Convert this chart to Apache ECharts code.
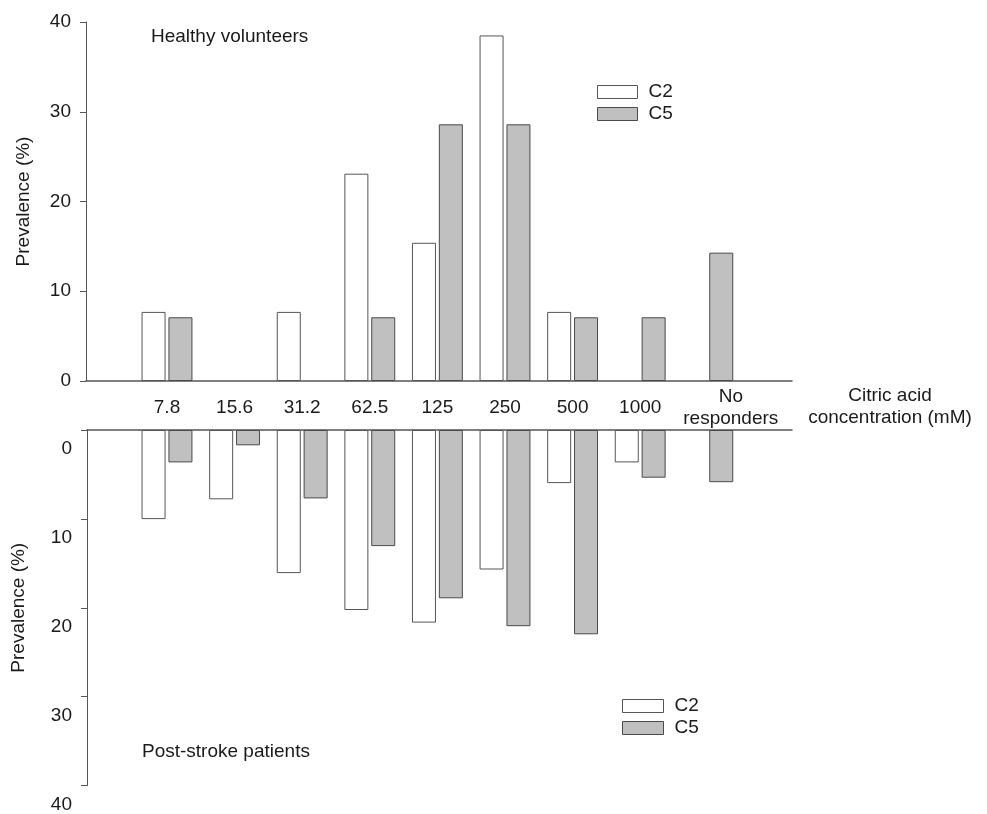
<!DOCTYPE html>
<html>
<head>
<meta charset="utf-8">
<script src="https://cdn.jsdelivr.net/npm/echarts@6/dist/echarts.min.js"></script>
<style>html,body{margin:0;padding:0;background:#fff}#c{width:987px;height:814px}</style>
</head>
<body>
<div id="c"></div>
<script>
const categories = ['7.8', '15.6', '31.2', '62.5', '125', '250', '500', '1000', 'No\nresponders'];
const healthyC2 = [7.7, 0, 7.7, 23.1, 15.4, 38.5, 7.7, 0, 0];
const healthyC5 = [7.1, 0, 0, 7.1, 28.6, 28.6, 7.1, 7.1, 14.3];
const strokeC2 = [9.9, 7.7, 15.9, 20.0, 21.4, 15.5, 5.9, 3.6, 0];
const strokeC5 = [3.6, 1.7, 7.6, 12.9, 18.7, 21.8, 22.7, 5.3, 5.8];
const yMin = 0, yMax = 40, yStep = 10;

const FONT = "'Liberation Sans', Arial, sans-serif";
const FS = 19;
const TXT = '#1a1a1a';
const AX = '#555';
const whiteStyle = { color: '#ffffff', borderColor: '#555', borderWidth: 1 };
const greyStyle = { color: '#c0c0c0', borderColor: '#4a4a4a', borderWidth: 1 };
// zero-height bars are not drawn in the original
const bars = arr => arr.map(v => (v === 0 ? '-' : v));

const chart = echarts.init(document.getElementById('c'), null, { renderer: 'canvas' });

const frameX = (gi, pos) => ({
  type: 'value', gridIndex: gi, min: 0, max: 1, position: pos,
  axisLine: { show: true, onZero: false, lineStyle: { color: AX, width: 1.5 } },
  axisTick: { show: false }, axisLabel: { show: false }, splitLine: { show: false }
});
const frameY = (gi, inverse, shift, nameGap) => ({
  type: 'value', gridIndex: gi, min: yMin, max: yMax, interval: yStep, inverse: inverse,
  name: 'Prevalence (%)', nameLocation: 'middle', nameGap: nameGap,
  nameTextStyle: { fontFamily: FONT, fontSize: FS, color: TXT },
  axisLine: { show: true, lineStyle: { color: AX, width: 1 } },
  axisTick: { show: true, inside: false, length: 6, lineStyle: { color: AX } },
  axisLabel: {
    fontFamily: FONT, fontSize: FS, color: TXT, margin: 15, verticalAlign: 'middle',
    formatter: v => '{a|' + v + '}',
    rich: { a: { fontFamily: FONT, fontSize: FS, color: TXT, padding: [shift, 0, 0, 0] } }
  },
  splitLine: { show: false }
});

const option = {
  animation: false,
  backgroundColor: '#fff',
  grid: [
    { left: 86, width: 706, top: 22, height: 359 },
    { left: 133.2, width: 608.4, top: 22, height: 359 },
    { left: 87, width: 705, top: 430, height: 360 },
    { left: 133.2, width: 608.4, top: 430, height: 360 }
  ],
  xAxis: [
    frameX(0, 'bottom'),
    {
      type: 'category', gridIndex: 1, data: categories, position: 'bottom',
      axisLine: { show: false }, axisTick: { show: false }, splitLine: { show: false },
      axisLabel: {
        interval: 0, margin: 27, verticalAlign: 'middle', lineHeight: 22,
        fontFamily: FONT, fontSize: FS, color: TXT,
        formatter: function (v) { return v.indexOf('\n') >= 0 ? '{nr|' + v + '}' : v; },
        rich: { nr: { fontFamily: FONT, fontSize: FS, color: TXT, lineHeight: 22, padding: [0, 0, 0, 46] } }
      }
    },
    frameX(2, 'top'),
    {
      type: 'category', gridIndex: 3, data: categories, position: 'top',
      axisLine: { show: false }, axisTick: { show: false }, axisLabel: { show: false }, splitLine: { show: false }
    }
  ],
  yAxis: [
    frameY(0, false, 0, 53),
    { type: 'value', gridIndex: 1, min: yMin, max: yMax, interval: yStep, show: false },
    frameY(2, true, 38, 59),
    { type: 'value', gridIndex: 3, min: yMin, max: yMax, interval: yStep, inverse: true, show: false }
  ],
  legend: [
    {
      data: ['C2', 'C5'], orient: 'vertical', left: 597, top: 82, padding: 0, itemGap: 2,
      itemWidth: 40, itemHeight: 13, icon: 'rect', selectedMode: false,
      itemStyle: { borderWidth: 1 },
      textStyle: { fontFamily: FONT, fontSize: FS, color: TXT, lineHeight: 20, padding: [0, 0, 0, 6] }
    },
    {
      data: ['C2', 'C5'], orient: 'vertical', left: 622, top: 696, padding: 0, itemGap: 2,
      itemWidth: 41, itemHeight: 13, icon: 'rect', selectedMode: false,
      itemStyle: { borderWidth: 1 },
      textStyle: { fontFamily: FONT, fontSize: FS, color: TXT, lineHeight: 20, padding: [0, 0, 0, 6] }
    }
  ],
  graphic: [
    { type: 'text', left: 151, top: 27, style: { text: 'Healthy volunteers', font: FS + 'px ' + FONT, fill: TXT } },
    { type: 'text', left: 142, top: 742, style: { text: 'Post-stroke patients', font: FS + 'px ' + FONT, fill: TXT } },
    { type: 'text', x: 890, y: 407, style: { text: 'Citric acid\nconcentration (mM)', font: FS + 'px ' + FONT, fill: TXT, align: 'center', verticalAlign: 'middle', lineHeight: 22 } }
  ],
  series: [
    { name: 'C2', type: 'bar', xAxisIndex: 1, yAxisIndex: 1, data: bars(healthyC2), barWidth: 24, barGap: '12%', itemStyle: whiteStyle },
    { name: 'C5', type: 'bar', xAxisIndex: 1, yAxisIndex: 1, data: bars(healthyC5), barWidth: 24, barGap: '12%', itemStyle: greyStyle },
    { name: 'C2', type: 'bar', xAxisIndex: 3, yAxisIndex: 3, data: bars(strokeC2), barWidth: 24, barGap: '12%', itemStyle: whiteStyle },
    { name: 'C5', type: 'bar', xAxisIndex: 3, yAxisIndex: 3, data: bars(strokeC5), barWidth: 24, barGap: '12%', itemStyle: greyStyle }
  ]
};
chart.setOption(option);
</script>
</body>
</html>
